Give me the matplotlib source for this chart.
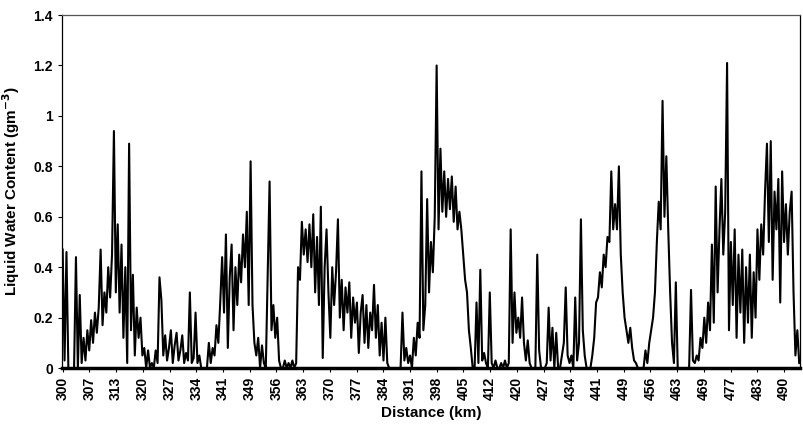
import matplotlib
matplotlib.use("Agg")
import matplotlib.pyplot as plt
import numpy as np

plt.rcParams["font.family"] = ["Liberation Sans", "DejaVu Sans"]

# Data: liquid water content (g m^-3) read every 0.5 km from 300 km
start_km = 300.0
step_km = 0.5
lwc = [
    0.47, 0.03, 0.46, 0.0, 0.0, 0.0, 0.0, 0.44, 0.0, 0.29,
    0.02, 0.12, 0.03, 0.15, 0.07, 0.19, 0.10, 0.22, 0.14, 0.24,
    0.47, 0.17, 0.30, 0.22, 0.40, 0.28, 0.45, 0.94, 0.30, 0.57,
    0.22, 0.49, 0.12, 0.40, 0.02, 0.89, 0.15, 0.37, 0.05, 0.24,
    0.12, 0.20, 0.05, 0.08, 0.0, 0.07, 0.0, 0.02, 0.0, 0.07,
    0.02, 0.36, 0.27, 0.05, 0.13, 0.03, 0.08, 0.15, 0.02, 0.09,
    0.14, 0.03, 0.07, 0.13, 0.02, 0.06, 0.03, 0.30, 0.02, 0.04,
    0.22, 0.02, 0.05, 0.0, 0.0, 0.0, 0.0, 0.10, 0.02, 0.08,
    0.05, 0.17, 0.10, 0.26, 0.44, 0.22, 0.53, 0.08, 0.36, 0.49,
    0.15, 0.40, 0.25, 0.45, 0.34, 0.53, 0.40, 0.62, 0.25, 0.82,
    0.25, 0.10, 0.05, 0.12, 0.0, 0.09, 0.02, 0.0, 0.36, 0.74,
    0.15, 0.25, 0.12, 0.20, 0.03, 0.0, 0.0, 0.03, 0.0, 0.02,
    0.0, 0.03, 0.0, 0.02, 0.40, 0.35, 0.58, 0.45, 0.55, 0.42,
    0.57, 0.40, 0.61, 0.30, 0.52, 0.25, 0.64, 0.04, 0.40, 0.55,
    0.30, 0.12, 0.40, 0.25, 0.38, 0.59, 0.20, 0.35, 0.15, 0.32,
    0.22, 0.34, 0.12, 0.28, 0.18, 0.26, 0.06, 0.22, 0.29, 0.10,
    0.25, 0.08, 0.22, 0.15, 0.33, 0.12, 0.25, 0.05, 0.18, 0.03,
    0.20, 0.02, 0.0, 0.0, 0.0, 0.0, 0.0, 0.0, 0.0, 0.22,
    0.03, 0.08, 0.02, 0.05, 0.0, 0.12, 0.05, 0.18, 0.12, 0.78,
    0.15, 0.25, 0.67, 0.30, 0.50, 0.38, 0.60, 1.20, 0.55, 0.87,
    0.62, 0.78, 0.60, 0.75, 0.63, 0.76, 0.58, 0.72, 0.55, 0.62,
    0.55, 0.45, 0.35, 0.30, 0.15, 0.08, 0.0, 0.0, 0.26, 0.02,
    0.39, 0.03, 0.06, 0.02, 0.0, 0.30, 0.02, 0.0, 0.03, 0.0,
    0.0, 0.02, 0.0, 0.03, 0.0, 0.02, 0.55, 0.10, 0.30, 0.14,
    0.20, 0.12, 0.28, 0.10, 0.03, 0.11, 0.02, 0.0, 0.0, 0.0,
    0.45, 0.07, 0.0, 0.0, 0.0, 0.02, 0.24, 0.03, 0.16, 0.0,
    0.14, 0.0, 0.0, 0.05, 0.10, 0.32, 0.05, 0.02, 0.05, 0.0,
    0.28, 0.03, 0.10, 0.59, 0.15, 0.05, 0.0, 0.0, 0.0, 0.05,
    0.12, 0.26, 0.28, 0.38, 0.32, 0.45, 0.40, 0.52, 0.50, 0.78,
    0.55, 0.65, 0.55, 0.80, 0.45, 0.30, 0.20, 0.15, 0.10, 0.16,
    0.08, 0.03, 0.02, 0.0, 0.0, 0.0, 0.0, 0.07, 0.02, 0.10,
    0.15, 0.20, 0.30, 0.50, 0.66, 0.55, 1.06, 0.60, 0.84, 0.55,
    0.30, 0.10, 0.02, 0.34, 0.0, 0.0, 0.0, 0.0, 0.0, 0.0,
    0.0, 0.31, 0.03, 0.02, 0.05, 0.03, 0.12, 0.08, 0.20, 0.10,
    0.26, 0.15, 0.49, 0.18, 0.72, 0.30, 0.55, 0.75, 0.45, 0.62,
    1.21, 0.15, 0.50, 0.25, 0.55, 0.12, 0.45, 0.22, 0.47, 0.10,
    0.40, 0.18, 0.45, 0.12, 0.38, 0.20, 0.55, 0.35, 0.57, 0.45,
    0.70, 0.89, 0.50, 0.90, 0.35, 0.70, 0.55, 0.75, 0.26, 0.78,
    0.50, 0.65, 0.45, 0.62, 0.70, 0.30, 0.05, 0.15, 0.02,
]
tick_labels = ["300", "307", "313", "320", "327", "334", "341", "349", "356",
               "363", "370", "377", "384", "391", "398", "405", "412", "420",
               "427", "434", "441", "449", "456", "463", "469", "477", "483",
               "490"]

distance = start_km + step_km * np.arange(len(lwc))

fig = plt.figure(figsize=(8.04, 4.30), dpi=100)
ax = fig.add_axes([0.077, 0.144, 0.918, 0.821])

ax.plot(distance, lwc, color="black", linewidth=1.5)

ax.set_xlim(299.8, 494.2)
ax.set_ylim(0, 1.4)
ax.set_yticks(np.arange(0, 1.41, 0.2))
ax.set_yticklabels(["0", "0.2", "0.4", "0.6", "0.8", "1", "1.2", "1.4"],
                   fontsize=10, fontweight="bold")
ax.set_xticks(np.linspace(300, 490, len(tick_labels)))
ax.set_xticklabels(tick_labels, rotation=90, fontsize=10, fontweight="bold")
ax.tick_params(axis="both", length=3, width=0.8, color="black")

ax.set_xlabel("Distance (km)", fontsize=11, fontweight="bold", labelpad=4)
ax.set_ylabel("Liquid Water Content (gm$^{\\mathbf{-3}}$)", fontsize=11,
              fontweight="bold", labelpad=8)

for side in ["left", "right", "top"]:
    ax.spines[side].set_linewidth(0.9)
ax.spines["top"].set_color("#555555")
ax.spines["bottom"].set_linewidth(2.5)

fig.savefig("out.png", dpi=100)
